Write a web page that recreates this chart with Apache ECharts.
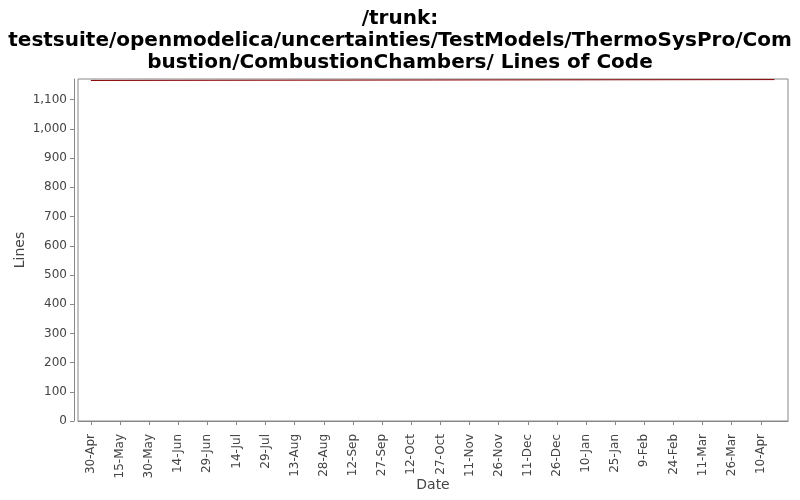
<!DOCTYPE html>
<html>
<head>
<meta charset="utf-8">
<script src="https://cdn.jsdelivr.net/npm/echarts@6/dist/echarts.min.js"></script>
<style>html,body{margin:0;padding:0;background:#fff}#c{width:800px;height:500px}</style>
</head>
<body>
<div id="c"></div>
<script>
var pointDates = ["2010-04-30", "2010-05-01", "2011-04-17"];
var lineValues = [1166, 1169, 1169];
var tickDates = ["2010-04-30","2010-05-15","2010-05-30","2010-06-14","2010-06-29","2010-07-14","2010-07-29","2010-08-13","2010-08-28","2010-09-12","2010-09-27","2010-10-12","2010-10-27","2010-11-11","2010-11-26","2010-12-11","2010-12-26","2011-01-10","2011-01-25","2011-02-09","2011-02-24","2011-03-11","2011-03-26","2011-04-10"];
var yTicks = [0,100,200,300,400,500,600,700,800,900,1000,1100];
var months = ["Jan","Feb","Mar","Apr","May","Jun","Jul","Aug","Sep","Oct","Nov","Dec"];

var DAY = 86400000;
function t(s){ return Date.parse(s + "T00:00:00Z"); }
var xMin = t("2010-04-30") - 6.6 * DAY;
var xMax = t("2010-04-30") + 359 * DAY;
var tickVals = tickDates.map(t);
var data = pointDates.map(function(d, i){ return [t(d), lineValues[i]]; });

var chart = echarts.init(document.getElementById('c'), null, {renderer: 'canvas'});
chart.setOption({
  animation: false,
  backgroundColor: '#fff',
  title: {
    text: '/trunk:\ntestsuite/openmodelica/uncertainties/TestModels/ThermoSysPro/Com\nbustion/CombustionChambers/ Lines of Code',
    left: 'center',
    top: 3,
    textStyle: {fontFamily: 'DejaVu Sans', fontSize: 20, fontWeight: 'bold', color: '#000', lineHeight: 22}
  },
  grid: {left: 78, right: 12, top: 79, bottom: 79, show: true, borderColor: '#888', borderWidth: 1, backgroundColor: '#fff', outerBoundsMode: 'none', containLabel: false},
  xAxis: {
    type: 'value', min: xMin, max: xMax, offset: 4,
    name: 'Date', nameLocation: 'middle', nameGap: 53, nameMoveOverlap: false,
    nameTextStyle: {fontFamily: 'DejaVu Sans', fontSize: 14, color: '#444'},
    axisLine: {show: true, lineStyle: {color: '#888'}},
    axisTick: {show: true, customValues: tickVals, length: 4, lineStyle: {color: '#888'}},
    axisLabel: {
      customValues: tickVals, rotate: 90, margin: 9,
      fontFamily: 'DejaVu Sans', fontSize: 12, color: '#444',
      formatter: function(v){ var d = new Date(v); return d.getUTCDate() + '-' + months[d.getUTCMonth()]; }
    },
    splitLine: {show: false}
  },
  yAxis: {
    type: 'value', min: 0, max: 1171, offset: 4,
    name: 'Lines', nameLocation: 'middle', nameGap: 47, nameMoveOverlap: false,
    nameTextStyle: {fontFamily: 'DejaVu Sans', fontSize: 14, color: '#444'},
    axisLine: {show: true, lineStyle: {color: '#888'}},
    axisTick: {show: true, customValues: yTicks, length: 4, lineStyle: {color: '#888'}},
    axisLabel: {
      customValues: yTicks, margin: 7,
      fontFamily: 'DejaVu Sans', fontSize: 12, color: '#444',
      formatter: function(v){ return Number(v).toLocaleString('en-US'); }
    },
    splitLine: {show: false}
  },
  series: [{
    type: 'line', data: data, step: 'end', showSymbol: false, symbol: 'none',
    lineStyle: {color: '#8b0000', width: 1}, itemStyle: {color: '#8b0000'}
  }]
});
</script>
</body>
</html>
